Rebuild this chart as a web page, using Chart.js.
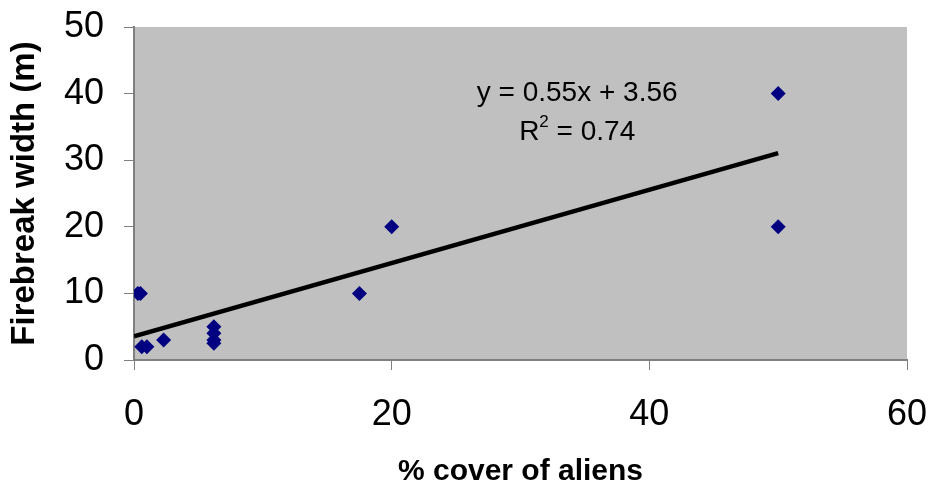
<!DOCTYPE html>
<html>
<head>
<meta charset="utf-8">
<script src="https://cdn.jsdelivr.net/npm/chart.js@4.4.0/dist/chart.umd.min.js"></script>
<style>
  html, body { margin: 0; padding: 0; background: #fff; }
  #wrap { width: 932px; height: 487px; }
</style>
</head>
<body>
<div id="wrap"><canvas id="chart" width="932" height="487"></canvas></div>
<script>
// % cover of aliens vs firebreak width
var coverX = [0.3, 0.5, 0.6, 1.0, 2.3, 6.2, 6.2, 6.2, 6.2, 17.5, 20, 50, 50];
var widthY = [10, 10, 2, 2, 3, 5, 4, 3, 2.5, 10, 20, 40, 20];

// linear trend y = 0.55x + 3.56
var trendX = [0, 50];
var trendY = [3.56, 31.06];

var eqText = 'y = 0.55x + 3.56';
var r2Label = 'R';
var r2Value = ' = 0.74';

var xTicks = [0, 20, 40, 60];
var yTicks = [0, 10, 20, 30, 40, 50];

var FONT = '"Liberation Sans", Arial, sans-serif';

var points = coverX.map(function (x, i) { return { x: x, y: widthY[i] }; });
var trend = trendX.map(function (x, i) { return { x: x, y: trendY[i] }; });

// grey plot background
var plotBg = {
    id: 'plotBg',
    beforeDraw: function (chart) {
        var a = chart.chartArea, c = chart.ctx;
        c.save();
        c.fillStyle = '#c0c0c0';
        c.fillRect(a.left, a.top, a.right - a.left, a.bottom - a.top);
        c.restore();
    }
};

// equation and R² text
var eqLabel = {
    id: 'eqLabel',
    afterDatasetsDraw: function (chart) {
        var c = chart.ctx;
        var xs = chart.scales.x, ys = chart.scales.y;
        var cx = xs.getPixelForValue(34.4);
        c.save();
        c.fillStyle = '#000';
        c.font = '28px ' + FONT;
        c.textAlign = 'center';
        c.textBaseline = 'middle';
        c.fillText(eqText, cx, ys.getPixelForValue(40.1));
        // R² line with superscript
        var y2 = ys.getPixelForValue(34.2);
        var wR = c.measureText(r2Label).width;
        var wV = c.measureText(r2Value).width;
        c.font = '17px ' + FONT;
        var wS = c.measureText('2').width;
        var start = cx - (wR + wS + wV) / 2;
        c.textAlign = 'left';
        c.font = '28px ' + FONT;
        c.fillText(r2Label, start, y2);
        c.font = '17px ' + FONT;
        c.fillText('2', start + wR, y2 - 10);
        c.font = '28px ' + FONT;
        c.fillText(r2Value, start + wR + wS, y2);
        c.restore();
    }
};

var ctx = document.getElementById('chart').getContext('2d');
var chart = new Chart(ctx, {
    type: 'scatter',
    data: {
        datasets: [
            {
                label: 'data',
                data: points,
                pointStyle: 'rectRot',
                pointRadius: 7.5,
                pointHoverRadius: 7.5,
                backgroundColor: '#000080',
                borderColor: '#000080',
                borderWidth: 0
            },
            {
                label: 'trend',
                data: trend,
                type: 'line',
                showLine: true,
                pointRadius: 0,
                borderColor: '#000',
                borderWidth: 4.5,
                fill: false
            }
        ]
    },
    options: {
        responsive: false,
        animation: false,
        layout: { padding: { top: 27, right: 25, left: 0, bottom: 0 } },
        plugins: {
            legend: { display: false },
            tooltip: { enabled: false }
        },
        scales: {
            x: {
                type: 'linear',
                min: 0,
                max: 60,
                afterBuildTicks: function (s) { s.ticks = xTicks.map(function (v) { return { value: v }; }); },
                afterFit: function (s) {
                    s.height = 127;
                    s.paddingLeft = 0; s.paddingRight = 0;
                },
                grid: { display: true, drawOnChartArea: false, drawTicks: true, tickLength: 10, color: '#808080' },
                border: { display: true, color: '#808080', width: 2 },
                ticks: {
                    color: '#000',
                    padding: 23,
                    font: { size: 36, family: FONT }
                },
                title: {
                    display: true,
                    text: '% cover of aliens',
                    color: '#000',
                    padding: { top: 0, bottom: 0 },
                    font: { size: 30, weight: 'bold', lineHeight: 1, family: FONT }
                }
            },
            y: {
                type: 'linear',
                min: 0,
                max: 50,
                afterBuildTicks: function (s) { s.ticks = yTicks.map(function (v) { return { value: v }; }); },
                afterFit: function (s) {
                    s.width = 134;
                    s.paddingTop = 0; s.paddingBottom = 0;
                },
                grid: { display: true, drawOnChartArea: false, drawTicks: true, tickLength: 10, color: '#808080' },
                border: { display: true, color: '#808080', width: 2 },
                ticks: {
                    color: '#000',
                    padding: 20,
                    font: { size: 36, family: FONT }
                },
                title: {
                    display: true,
                    text: 'Firebreak width (m)',
                    color: '#000',
                    padding: { top: 8, bottom: 0 },
                    font: { size: 33, weight: 'bold', lineHeight: 1, family: FONT }
                }
            }
        }
    },
    plugins: [plotBg, eqLabel]
});
</script>
</body>
</html>
